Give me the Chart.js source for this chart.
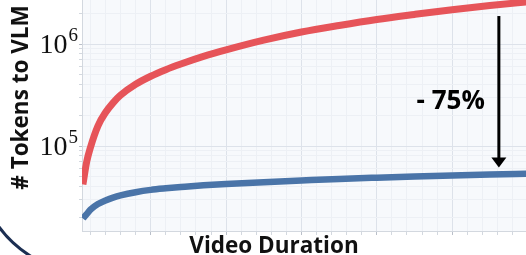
<!DOCTYPE html>
<html>
<head>
<meta charset="utf-8">
<script src="https://cdn.jsdelivr.net/npm/chart.js@4.4.1/dist/chart.umd.min.js"></script>
<style>
  body { margin: 0; background: #fff; }
  canvas { display: block; }
</style>
</head>
<body>
<canvas id="tokenChart" width="526" height="255"></canvas>
<script>
// video duration (minutes) and tokens sent to the VLM
const durations = [1, 1.5, 2, 3, 4, 5, 6, 8, 10, 12, 14, 17, 20, 25, 30, 35, 40, 45, 50, 55, 60];
const baselineTokens = [42000, 70000, 97000, 158000, 213000, 265000, 315000, 403000, 483000, 560000, 636000,
    755000, 875000, 1090000, 1310000, 1520000, 1740000, 1950000, 2170000, 2380000, 2590000];
const reducedTokens = [19500, 21500, 23800, 27000, 29300, 31200, 32800, 35300, 37200, 38500, 39600,
    41200, 42500, 44200, 45900, 47600, 49000, 50300, 51500, 52500, 53400];

const xTicks = [2, 4, 6, 8, 10, 12, 14, 16, 18, 20, 22, 24, 26, 28, 30, 32, 34, 36, 38, 40, 42, 44, 46, 48, 50, 52, 54, 56, 58];
const xMajor = [10, 20, 30, 40, 50];
const yTicks = [20000, 30000, 40000, 50000, 60000, 70000, 80000, 90000,
    100000, 200000, 300000, 400000, 500000, 600000, 700000, 800000, 900000, 1000000, 2000000];
const yLabelValues = [100000, 1000000];
const yLabelExponents = ['5', '6'];

// "- 75%" annotation
const arrowDuration = 56.2;
const arrowFrom = 1880000;
const arrowTo = 61500;
const arrowLabelValue = 275000;
const arrowLabel = '- 75%';

const sansBold = 'bold 22.5px "Open Sans", sans-serif';

const decor = {
    id: 'decor',
    beforeDraw(chart) {
        const { ctx, chartArea: a } = chart;
        ctx.save();
        ctx.fillStyle = '#f7f9fc';
        ctx.fillRect(a.left, a.top, a.right - a.left, a.bottom - a.top);
        ctx.restore();
    },
    afterDraw(chart) {
        const { ctx, chartArea: a } = chart;
        const x = chart.scales.x, y = chart.scales.y;
        ctx.save();

        // y tick labels: 10^5, 10^6
        ctx.fillStyle = '#111';
        yLabelValues.forEach((v, i) => {
            const py = y.getPixelForValue(v);
            ctx.font = '19px "Liberation Serif", serif';
            const supW = ctx.measureText(yLabelExponents[i]).width;
            const supX = a.left - 4 - supW;
            ctx.textAlign = 'left';
            ctx.textBaseline = 'alphabetic';
            ctx.fillText(yLabelExponents[i], supX, py - 3);
            ctx.font = '28px "Liberation Serif", serif';
            ctx.textAlign = 'right';
            ctx.fillText('10', supX - 1, py + 9);
        });

        // axis titles
        ctx.font = sansBold;
        ctx.fillStyle = '#111';
        ctx.textAlign = 'center';
        ctx.textBaseline = 'alphabetic';
        ctx.fillText('Video Duration', a.left + 192, 253);
        ctx.save();
        ctx.translate(28, 97.5);
        ctx.rotate(-Math.PI / 2);
        ctx.fillText('# Tokens to VLM', 0, 0);
        ctx.restore();

        // arrow
        const ax = x.getPixelForValue(arrowDuration);
        const y0 = y.getPixelForValue(arrowFrom);
        const y1 = y.getPixelForValue(arrowTo);
        ctx.strokeStyle = '#000';
        ctx.fillStyle = '#000';
        ctx.lineWidth = 3;
        ctx.beginPath();
        ctx.moveTo(ax, y0);
        ctx.lineTo(ax, y1 - 8);
        ctx.stroke();
        ctx.beginPath();
        ctx.moveTo(ax - 7.5, y1 - 10);
        ctx.lineTo(ax + 7.5, y1 - 10);
        ctx.lineTo(ax, y1);
        ctx.closePath();
        ctx.fill();

        ctx.font = 'bold 26px "Open Sans", sans-serif';
        ctx.textAlign = 'right';
        ctx.textBaseline = 'middle';
        ctx.fillText(arrowLabel, ax - 14, y.getPixelForValue(arrowLabelValue));

        // navy arc in the lower left corner
        ctx.strokeStyle = '#1c2f52';
        ctx.lineWidth = 3;
        ctx.beginPath();
        ctx.arc(90, 160, 113, 95 * Math.PI / 180, 150 * Math.PI / 180);
        ctx.stroke();

        ctx.restore();
    }
};

function gridColor(ctx) {
    return ctx.tick && ctx.tick.major ? '#dde2ea' : '#edf0f5';
}

new Chart(document.getElementById('tokenChart').getContext('2d'), {
    type: 'line',
    data: {
        datasets: [{
            label: 'All tokens',
            data: durations.map((d, i) => ({ x: d, y: baselineTokens[i] })),
            borderColor: '#e65459',
            borderWidth: 7,
            pointRadius: 0,
            cubicInterpolationMode: 'monotone'
        }, {
            label: 'Reduced tokens',
            data: durations.map((d, i) => ({ x: d, y: reducedTokens[i] })),
            borderColor: '#4a74a8',
            borderWidth: 6.5,
            pointRadius: 0,
            cubicInterpolationMode: 'monotone'
        }]
    },
    options: {
        responsive: false,
        animation: false,
        devicePixelRatio: 1,
        layout: { padding: 0 },
        plugins: { legend: { display: false }, tooltip: { enabled: false } },
        scales: {
            x: {
                type: 'linear',
                min: 0.88,
                max: 59.8,
                afterBuildTicks: (axis) => {
                    axis.ticks = xTicks.map(v => ({ value: v, major: xMajor.includes(v) }));
                },
                afterFit: (axis) => { axis.height = 24; },
                ticks: { display: false },
                grid: {
                    color: gridColor,
                    tickColor: (ctx) => ctx.tick && ctx.tick.major ? '#b9bfc9' : '#d3d8df',
                    tickLength: 4
                },
                border: { color: '#d3d8df' }
            },
            y: {
                type: 'logarithmic',
                min: 14700,
                max: 2700000,
                afterBuildTicks: (axis) => {
                    axis.ticks = yTicks.map(v => ({ value: v, major: yLabelValues.includes(v) }));
                },
                afterFit: (axis) => { axis.width = 82; },
                ticks: { display: false },
                grid: {
                    color: gridColor,
                    tickColor: (ctx) => ctx.tick && ctx.tick.major ? '#b9bfc9' : '#d3d8df',
                    tickLength: 3
                },
                border: { color: '#d3d8df' }
            }
        }
    },
    plugins: [decor]
});
</script>
</body>
</html>
